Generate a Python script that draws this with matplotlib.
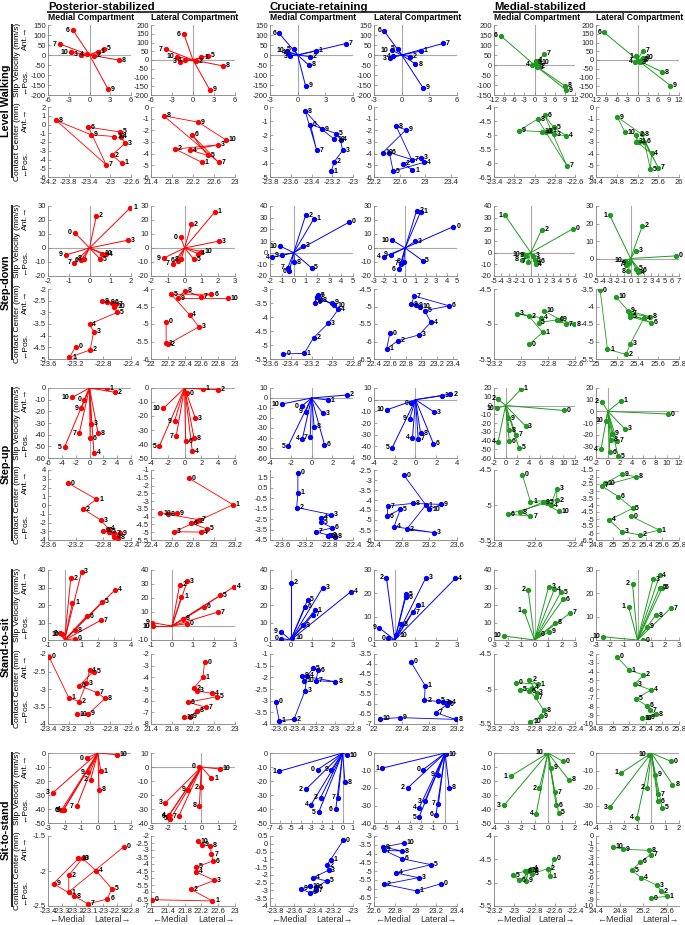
import numpy as np
import matplotlib
matplotlib.use("Agg")
import matplotlib.pyplot as plt
from matplotlib.lines import Line2D

plt.rcParams['font.family'] = ['Liberation Sans', 'DejaVu Sans']
plt.rcParams['axes.unicode_minus'] = False

tasks = ["Level Walking", "Step-down", "Step-up", "Stand-to-sit", "Sit-to-stand"]
designs = ["Posterior-stabilized", "Cruciate-retaining", "Medial-stabilized"]
compartments = ["Medial Compartment", "Lateral Compartment"]
design_colors = ["#ff0000", "#0000ff", "#1f9a1f"]

walk_labels = list(range(1, 11))
task_labels = list(range(0, 11))

# ---- level walking (points 1..10), columns: PS med, PS lat, CR med, CR lat, MS med, MS lat
walk_slip_x = [
    [1.2, 0.65, -1.3, -0.4, 2.1, -2.4, -4.3, 4.2, 2.7, -2.7],
    [1.2, 0.4, -1.9, -1.2, 2.2, -1.3, -3.9, 4.3, 2.4, -2.3],
    [1.95, 1.3, -0.8, -1.0, -0.4, -2.0, 5.2, 1.2, 0.85, -1.2],
    [2.1, 0.9, -1.3, -0.9, -0.4, -1.9, 4.5, 1.5, 2.3, -1.1],
    [0.5, 1.0, 0.8, -0.7, 0.3, -10.0, 2.9, 8.9, 9.4, 1.2],
    [-0.3, 1.0, 0.6, -0.6, 1.2, -9.7, 1.5, 7.2, 9.5, 1.5],
]
walk_slip_y = [
    [17, -3, 0, 3, 30, 125, 55, -25, -172, 13],
    [15, -6, -10, 0, 25, 147, 61, -34, -171, 19],
    [20, -8, -5, 10, 28, 108, 57, -50, -153, 20],
    [20, -8, -17, -5, 30, 120, 58, -45, -163, 25],
    [22, -5, -12, 0, 15, 146, 57, -103, -125, 12],
    [22, -5, -12, -10, 2, 158, 52, -69, -146, 12],
]
walk_cc_x = [
    [-22.78, -22.97, -22.71, -22.8, -22.81, -23.42, -23.08, -24.04, -23.38, -22.92],
    [22.37, 21.86, 22.67, 22.15, 22.48, 22.18, 22.69, 21.64, 22.3, 22.82],
    [-23.21, -23.18, -23.1, -23.12, -23.16, -23.41, -23.35, -23.46, -23.3, -23.18],
    [22.8, 22.66, 22.93, 22.98, 22.5, 22.44, 22.79, 22.55, 22.7, 22.34],
    [-22.85, -22.89, -22.81, -22.69, -22.81, -22.9, -22.68, -22.97, -23.15, -22.93],
    [25.22, 25.18, 25.18, 25.47, 25.45, 25.33, 25.6, 25.28, 24.81, 24.96],
]
walk_cc_y = [
    [-4.4, -3.5, -2.15, -1.4, -0.85, -0.3, -4.6, 0.46, -1.15, -1.38],
    [-4.75, -3.6, -3.25, -3.7, -4.15, -2.4, -4.75, -0.75, -1.3, -2.8],
    [-4.6, -3.9, -3.1, -2.35, -1.9, -1.25, -3.1, -0.3, -1.6, -2.3],
    [-5.4, -4.85, -4.35, -4.75, -5.5, -3.9, -4.5, -1.67, -1.96, -3.9],
    [-4.84, -4.88, -4.98, -5.02, -4.73, -4.3, -6.1, -4.43, -4.84, -4.88],
    [-2.97, -2.4, -2.97, -3.98, -5.33, -2.97, -5.19, -2.33, -0.86, -2.16],
]

# ---- step-down (points 0..10)
down_slip_x = [
    [-0.72, 1.97, 0.33, 1.85, 0.8, 0.52, -0.4, -0.74, -0.25, -1.15, 0.6],
    [-0.24, 1.8, 0.4, 2.04, 0.8, 0.54, -0.4, -0.7, -0.2, -1.24, 1.0],
    [4.7, 1.7, 1.0, 0.77, -1.8, 1.5, -0.37, -0.5, 0.06, -1.0, -1.14],
    [4.66, 1.5, 1.1, 1.0, -2.07, 1.68, -0.6, -0.36, -0.13, -1.4, -1.23],
    [5.7, -3.5, 1.47, 0.32, 0.65, 0.5, 0.97, -0.37, -1.2, -0.6, -1.06],
    [6.6, -3.0, 1.7, 0.74, 1.1, 0.8, 1.4, -0.6, -0.34, -0.25, -0.83],
]
down_slip_y = [
    [11, 28.8, 23, 5.6, -4.6, -7.9, -8.6, -10.7, -7.5, -5, -4.2],
    [7.7, 25.8, 17, 4.9, -4, -7.9, -9, -11.4, -8, -7.2, -2.5],
    [26.3, 29, 32, 6, -4, -13, -16, -13, -8.4, -2.2, 5.6],
    [15.3, 26, 26.5, 4.9, -6.3, -9, -15.3, -11.4, -9.8, -4.9, 5.6],
    [20.4, 32, 19.6, -2.8, -9.8, -6.4, -7.8, -7.8, -6.1, -2.8, -1.4],
    [1.5, 24.6, 18.7, 4.3, -7.8, -5.9, -6.9, -3.7, -7.4, -2.8, -1.3],
]
down_cc_x = [
    [-23.2, -23.29, -22.99, -22.94, -23.0, -22.6, -22.68, -22.62, -22.82, -22.74, -22.64],
    [22.18, 22.18, 22.2, 22.57, 22.46, 22.24, 22.72, 22.6, 22.4, 22.32, 22.92],
    [-23.47, -23.27, -23.18, -23.04, -22.94, -23.14, -23.17, -23.15, -23.12, -23.0, -22.98],
    [22.6, 22.56, 22.7, 22.97, 23.12, 23.04, 23.35, 22.91, 22.87, 22.93, 22.98],
    [-22.94, -22.84, -22.94, -23.03, -22.85, -22.87, -22.73, -22.67, -22.61, -22.71, -22.83],
    [25.04, 25.11, 25.29, 25.33, 25.46, 25.33, 25.53, 25.33, 25.52, 25.31, 25.19],
]
down_cc_y = [
    [-4.47, -4.93, -4.61, -3.83, -3.51, -3.0, -2.58, -2.66, -2.53, -2.56, -2.77],
    [-4.93, -5.55, -5.58, -5.08, -4.74, -4.15, -4.15, -4.22, -4.05, -4.27, -4.27],
    [-5.32, -5.3, -4.74, -4.23, -3.72, -3.22, -3.5, -3.3, -3.4, -3.5, -3.58],
    [-5.77, -6.21, -5.98, -5.81, -5.45, -5.12, -4.98, -4.7, -4.94, -4.96, -5.0],
    [-5.29, -5.12, -4.89, -4.85, -4.91, -4.98, -4.94, -5.0, -5.0, -4.94, -4.81],
    [-3.53, -5.22, -5.37, -5.07, -4.34, -4.29, -4.46, -4.21, -4.29, -4.12, -3.72],
]

# ---- step-up
up_slip_x = [
    [-0.74, 2.56, 3.7, 0.25, 0.64, -3.6, 0.1, -1.48, 1.23, -1.23, -2.46],
    [0.32, 2.2, 4.0, 1.28, 0.92, -3.0, 0.12, -1.0, 1.12, -1.2, -2.52],
    [-0.95, 1.57, 3.4, 1.08, -0.88, -2.26, 1.25, -0.13, 0.26, -0.56, -2.85],
    [-0.39, 2.55, 3.37, 1.83, -0.29, -2.25, 1.73, 0.26, 0.49, -0.56, -2.78],
    [10.1, 2.7, -1.3, 3.45, -1.3, 2.3, 0.64, 1.8, 0.64, 0.35, -1.4],
    [10.2, 2.2, -1.0, 2.85, -1.17, 1.73, 0.34, 1.5, 0.5, 0.67, -0.33],
]
up_slip_y = [
    [-10.2, 0, -3.7, -30.7, -55.4, -50.6, -42.9, -38.6, -38.6, -17.3, -8],
    [-3.6, -0.7, -1.2, -21.6, -45.3, -41.5, -38.2, -34.4, -35.8, -23.7, -14.5],
    [-8.3, -2, 3, -15.3, -40.9, -48.2, -46.5, -39, -29, -13.6, -6],
    [-3.1, 3.4, 4.8, -10.8, -32.7, -41.2, -37.8, -33.5, -28.7, -16.5, -8.8],
    [-5.7, 18.9, 7.6, -23.5, -41.7, -48.2, -40.9, -33.3, -28.4, -14.4, -3],
    [-2.3, 9.1, 8.2, -15, -32.7, -38.6, -35, -25, -24.4, -19.3, -8],
]
up_cc_x = [
    [-23.31, -22.9, -23.09, -22.83, -22.73, -22.72, -22.65, -22.65, -22.59, -22.56, -22.81],
    [22.76, 23.18, 22.84, 22.62, 22.88, 22.93, 22.78, 22.86, 22.56, 22.65, 22.49],
    [-23.33, -23.33, -23.35, -22.77, -22.94, -22.94, -22.75, -23.03, -22.71, -22.78, -22.82],
    [22.83, 23.15, 22.87, 23.27, 22.69, 22.78, 22.59, 22.6, 22.96, 23.37, 23.2],
    [-22.66, -22.62, -22.49, -22.49, -22.52, -22.54, -22.73, -22.62, -22.67, -22.56, -22.48],
    [25.22, 25.56, 25.33, 25.11, 24.96, 25.24, 25.07, 24.87, 25.28, 25.11, 24.91],
]
up_cc_y = [
    [2.51, 0.65, -0.46, -1.76, -2.69, -3.06, -3.62, -3.25, -3.73, -3.25, -2.95],
    [-1.52, -3.23, -4.3, -4.97, -4.99, -4.78, -4.41, -4.2, -3.85, -3.79, -3.79],
    [1.93, 0.01, -1.39, -2.07, -2.38, -2.79, -3.34, -3.72, -4.18, -4.05, -4.15],
    [-2.75, -4.25, -5.47, -5.63, -5.33, -4.47, -4.8, -4.3, -4.17, -4.22, -4.47],
    [-4.57, -4.95, -4.93, -4.77, -5.0, -4.97, -5.13, -5.16, -5.1, -4.96, -5.09],
    [-4.79, -5.79, -6.14, -5.9, -5.07, -4.24, -3.4, -2.64, -1.98, -1.79, -2.45],
]

# ---- stand-to-sit
sit_slip_x = [
    [0.61, 0.47, 0.37, 1.02, 3.03, 2.27, 1.33, 2.21, 0.61, -0.25, -0.18],
    [0.7, 0.45, 0.36, 0.73, 2.96, 2.3, 1.5, 2.19, 0.53, -0.94, -0.92],
    [-0.46, 1.17, 0.0, 1.54, 2.9, 0.81, 0.7, 1.06, 0.6, -0.49, 0.08],
    [-0.32, 1.1, -0.4, 1.5, 2.92, 0.53, 0.53, 0.86, 0.32, -0.76, 0.08],
    [0.25, -0.78, -0.47, 1.05, 1.47, 1.96, 2.1, 2.65, 1.54, 1.1, -2.25],
    [0.41, -0.65, -0.36, 1.13, 1.6, 1.6, 1.8, 2.4, 1.32, 0.72, -2.52],
]
sit_slip_y = [
    [0.8, 21.3, 35.2, 38.9, 28.6, 21.9, 13.7, 11.4, 5.5, 3.8, 3.2],
    [1.7, 21, 29.3, 32.1, 28.1, 21.9, 13.6, 10, 5.2, 2.4, 0],
    [0.8, 17.1, 32.8, 29.9, 27.6, 22.9, 19, 14.3, 8.4, 4.8, 1.3],
    [0.7, 14.9, 26.7, 26.7, 26.4, 19.6, 18.4, 12, 6.7, 5.3, 2],
    [3.2, 16.6, 28.6, 30.5, 29, 27.4, 23.2, 15.5, 9.9, 4.8, 2.3],
    [0, 14.3, 24.1, 26, 27.7, 22.4, 22.4, 13.6, 10.7, 5.6, 1.4],
]
sit_cc_x = [
    [-23.39, -23.2, -23.1, -23.03, -23.0, -22.96, -23.1, -22.93, -22.85, -23.01, -23.12],
    [22.42, 22.39, 22.21, 22.27, 22.57, 22.65, 22.11, 22.45, 22.28, 22.14, 22.03],
    [-23.64, -23.6, -23.44, -23.32, -23.3, -23.23, -23.18, -23.2, -22.99, -23.35, -23.33],
    [22.53, 22.74, 22.73, 23.0, 23.08, 22.93, 23.05, 22.89, 23.18, 22.37, 22.08],
    [-22.98, -22.77, -22.85, -22.78, -22.82, -22.94, -22.85, -22.79, -22.71, -22.74, -22.84],
    [25.05, 25.2, 25.37, 25.27, 25.46, 25.28, 25.41, 25.45, 25.52, 25.43, 25.35],
]
sit_cc_y = [
    [-2.08, -3.25, -3.36, -2.84, -2.46, -2.5, -2.9, -3.1, -3.27, -3.71, -3.72],
    [-2.71, -4.0, -4.94, -5.17, -5.37, -5.66, -6.14, -6.57, -6.86, -7.37, -7.43],
    [-3.04, -3.86, -3.8, -2.57, -1.94, -1.61, -1.69, -2.14, -2.19, -1.93, -2.14],
    [-3.88, -5.08, -5.8, -5.9, -5.9, -5.85, -6.05, -6.43, -6.77, -6.68, -6.75],
    [-4.91, -4.93, -4.87, -5.05, -4.98, -5.01, -5.03, -5.12, -5.3, -5.39, -5.47],
    [-2.3, -3.83, -4.4, -5.43, -6.11, -7.14, -7.9, -8.4, -8.9, -9.24, -9.35],
]

# ---- sit-to-stand
stand_slip_x = [
    [-0.66, 0.18, -0.43, -2.7, -2.05, -2.1, -2.2, -1.27, 0.08, -0.6, 1.15],
    [-0.16, 0.59, -0.02, -2.15, -1.94, -1.84, -1.98, -1.34, -0.12, -0.77, 1.09],
    [-2.4, -6.1, -3.54, -2.13, -3.05, -2.3, -0.66, -0.43, 0.22, -1.08, 0.4],
    [-1.86, -5.34, -3.14, -1.71, -2.2, -2.2, -0.77, -0.57, 0.34, -0.63, 0.08],
    [1.1, -2.77, -0.64, -3.26, -0.88, 0.78, 0.61, 0.49, 1.54, 0.22, -0.12],
    [1.4, -2.18, -0.29, -2.98, -1.04, 0.77, 0.48, 0.48, 1.53, 0.24, -0.17],
]
stand_slip_y = [
    [-3.6, -13, -19, -28.4, -40.5, -41, -41, -38.2, -26.3, -13.7, -1.2],
    [0.2, -8, -14.5, -25.6, -34.6, -37, -35.5, -35, -27.5, -16.1, -1.4],
    [-11.8, -13, -26, -32, -37, -42.2, -40.3, -32, -20.8, -11.8, -1.5],
    [-9.5, -8.7, -19.9, -27.5, -31.4, -36.6, -35.2, -29, -19.9, -12.3, -0.6],
    [-5.9, -16.6, -25.1, -37.4, -43.4, -42.7, -37.4, -28, -19.2, -10.7, 0],
    [-4.7, -11.4, -19.9, -30.9, -37.1, -31.4, -27.7, -23.7, -18, -12.5, -0.9],
]
stand_cc_x = [
    [-22.85, -23.25, -23.25, -23.15, -23.05, -22.94, -22.97, -23.11, -23.21, -23.36, -23.18],
    [21.02, 22.46, 21.95, 22.51, 22.07, 22.07, 22.48, 22.44, 22.41, 22.21, 22.11],
    [-23.1, -23.23, -23.27, -23.25, -23.41, -23.27, -23.38, -23.38, -23.44, -23.53, -23.44],
    [23.25, 23.01, 22.7, 23.03, 22.81, 23.15, 22.87, 22.7, 22.87, 22.69, 22.89],
    [-22.61, -22.65, -22.67, -22.82, -22.83, -23.01, -22.95, -22.84, -22.89, -22.88, -22.86],
    [25.33, 25.6, 25.5, 25.43, 25.16, 25.0, 25.15, 25.32, 25.3, 24.86, 24.68],
]
stand_cc_y = [
    [-1.65, -2.3, -2.06, -1.82, -2.0, -2.25, -2.4, -2.47, -2.36, -2.18, -1.82],
    [-6.55, -6.64, -5.81, -5.17, -4.57, -4.21, -3.79, -3.31, -2.71, -2.62, -2.38],
    [0.22, -1.02, -1.38, -1.7, -2.18, -2.39, -2.78, -2.99, -3.16, -2.9, -2.73],
    [-5.72, -6.14, -5.76, -5.38, -5.11, -4.64, -4.3, -3.82, -3.86, -3.63, -3.4],
    [-4.49, -4.86, -4.7, -4.81, -4.7, -4.84, -4.95, -4.76, -4.76, -4.96, -4.74],
    [-8.86, -8.62, -7.86, -7.05, -5.95, -4.9, -3.71, -2.67, -2.05, -1.9, -1.57],
]

row_data = [
    (walk_labels, walk_slip_x, walk_slip_y, walk_cc_x, walk_cc_y),
    (task_labels, down_slip_x, down_slip_y, down_cc_x, down_cc_y),
    (task_labels, up_slip_x, up_slip_y, up_cc_x, up_cc_y),
    (task_labels, sit_slip_x, sit_slip_y, sit_cc_x, sit_cc_y),
    (task_labels, stand_slip_x, stand_slip_y, stand_cc_x, stand_cc_y),
]

# axis ranges: (lo, hi, step, first tick)
slip_x_rng = [
    [(-6, 6, 3), (-6, 6, 3), (-3, 6, 3), (-3, 6, 3), (-12, 12, 3), (-12, 12, 3)],
    [(-2, 2, 1), (-2, 3, 1), (-2, 5, 1), (-3, 5, 1), (-5, 6, 1), (-5, 7, 1)],
    [(-6, 6, 2), (-4, 6, 2), (-4, 4, 2), (-4, 4, 2), (-2, 12, 2), (-2, 12, 2)],
    [(-1, 4, 1), (-1, 3, 1), (-1, 3, 1), (-1, 3, 1), (-3, 3, 1), (-3, 3, 1)],
    [(-3, 2, 1), (-3, 2, 1), (-7, 1, 1), (-6, 1, 1), (-4, 2, 1), (-4, 2, 1)],
]
slip_y_rng = [
    [(-200, 150, 50), (-200, 200, 50), (-200, 150, 50), (-200, 150, 50), (-150, 200, 50), (-200, 200, 50)],
    [(-20, 30, 10), (-20, 30, 10), (-20, 40, 10), (-20, 30, 10), (-20, 40, 10), (-10, 30, 10)],
    [(-60, 0, 10), (-50, 0, 10), (-60, 10, 10), (-50, 10, 10), (-60, 20, 10), (-40, 20, 10)],
    [(0, 40, 10), (-10, 40, 10), (0, 40, 10), (0, 30, 10), (0, 40, 10), (0, 30, 10)],
    [(-50, 0, 10), (-40, 10, 10), (-50, 0, 10), (-40, 0, 10), (-50, 0, 10), (-40, 0, 10)],
]
cc_x_rng = [
    [(-24.2, -22.6, 0.4), (21.4, 23, 0.4), (-23.8, -23, 0.2), (22.2, 23.5, 0.4, 22.2), (-23.4, -22.6, 0.2), (24.4, 26, 0.4)],
    [(-23.6, -22.4, 0.4), (22, 23, 0.2), (-23.6, -22.8, 0.2), (22.4, 23.45, 0.2), (-23.2, -22.6, 0.2), (25, 25.8, 0.2)],
    [(-23.6, -22.4, 0.4), (22.4, 23.2, 0.2), (-23.8, -22.4, 0.4, -23.6), (22.4, 23.6, 0.4), (-22.8, -22.4, 0.2), (24.8, 25.8, 0.2)],
    [(-23.4, -22.6, 0.2), (21.4, 23, 0.4), (-23.7, -22.8, 0.2, -23.6), (22, 23.2, 0.4), (-23.2, -22.4, 0.2), (24.8, 25.8, 0.2)],
    [(-23.4, -22.8, 0.1), (21, 23, 0.4), (-23.85, -23, 0.2, -23.8), (22.6, 23.4, 0.2), (-23.2, -22.4, 0.2), (24.4, 25.8, 0.4)],
]
cc_y_rng = [
    [(-6, 2, 1), (-6, 0, 1), (-5, 0, 1), (-6, 0, 1), (-6.5, -4, 0.5), (-6, 0, 1)],
    [(-5, -2, 0.5), (-6, -4, 0.5), (-5.5, -3, 0.5), (-6.5, -4.5, 0.5), (-5.5, -4.5, 0.5), (-5.5, -3.5, 0.5)],
    [(-4, 4, 1), (-5.5, -1, 0.5), (-4.5, 2.2, 1), (-6, -2.5, 0.5), (-5.5, -4.5, 0.5), (-6.5, -1.5, 0.5)],
    [(-4, -2, 0.5), (-8, -2, 1), (-4, -1, 0.5), (-7, -3.5, 0.5), (-5.5, -4.5, 0.5), (-10, -2, 1)],
    [(-2.5, -1.5, 0.5), (-7, -2, 0.5), (-4, 0.5, 0.5), (-7, -3, 0.5), (-5.5, -4, 0.5), (-10, 0, 1)],
]

W, H = 685, 925
col_left = [48, 151, 270, 374, 494, 596]
col_w = [83, 84, 83, 83, 81, 83]
slip_top = [25, 206, 388, 570, 753]
cc_top = [107, 289, 470, 654, 836]
ax_h = 70


def fx(px):
    return px / W


def fy(py):
    return 1 - py / H


def tick_list(r):
    lo, hi, step = r[0], r[1], r[2]
    start = r[3] if len(r) > 3 else lo
    return np.round(np.arange(start, hi + step * 0.01, step), 4)


def style_axes(ax, xr, yr):
    ax.set_xlim(xr[0], xr[1])
    ax.set_ylim(yr[0], yr[1])
    ax.set_xticks(tick_list(xr))
    ax.set_yticks(tick_list(yr))
    ax.set_xticklabels(['%g' % t for t in tick_list(xr)])
    ax.set_yticklabels(['%g' % t for t in tick_list(yr)])
    for s in ['top', 'right']:
        ax.spines[s].set_visible(False)
    for s in ['left', 'bottom']:
        ax.spines[s].set_color('#808080')
        ax.spines[s].set_linewidth(0.6)
    ax.tick_params(direction='in', length=2, width=0.5, labelsize=5.5,
                   colors='#808080', labelcolor='#262626', pad=1.5)
    ax.patch.set_alpha(0)


fig = plt.figure(figsize=(W / 100, H / 100), dpi=100)

for r in range(5):
    labels, sx, sy, cx, cy = row_data[r]
    for c in range(6):
        color = design_colors[c // 2]
        # slip velocity panel
        ax = fig.add_axes([fx(col_left[c]), fy(slip_top[r] + ax_h), fx(col_w[c]), ax_h / H])
        ax.axhline(0, color='#a8a8a8', lw=0.8, zorder=0)
        ax.axvline(0, color='#a8a8a8', lw=0.8, zorder=0)
        for x, y in zip(sx[c], sy[c]):
            ax.plot([0, x], [0, y], color=color, lw=0.7, zorder=2)
        ax.plot(sx[c], sy[c], 'o', ms=2.8, color=color, zorder=3)
        for x, y, lab in zip(sx[c], sy[c], labels):
            right = x >= 0
            ax.annotate(str(lab), (x, y), xytext=(2 if right else -2, 0),
                        textcoords='offset points', ha='left' if right else 'right',
                        va='center', fontsize=5, fontweight='bold', zorder=4)
        style_axes(ax, slip_x_rng[r][c], slip_y_rng[r][c])

        # contact center panel
        ax = fig.add_axes([fx(col_left[c]), fy(cc_top[r] + ax_h), fx(col_w[c]), ax_h / H])
        ax.plot(cx[c], cy[c], '-', color=color, lw=0.6, zorder=2)
        ax.plot(cx[c], cy[c], 'o', ms=2.8, color=color, zorder=3)
        for x, y, lab in zip(cx[c], cy[c], labels):
            ax.annotate(str(lab), (x, y), xytext=(2, 0), textcoords='offset points',
                        ha='left', va='center', fontsize=5, fontweight='bold', zorder=4)
        style_axes(ax, cc_x_rng[r][c], cc_y_rng[r][c])

    # row label, bar and y labels
    mid = (slip_top[r] + cc_top[r] + ax_h) / 2
    fig.text(fx(6), fy(mid), tasks[r], rotation=90, ha='center', va='center',
             fontsize=7.8, fontweight='bold')
    fig.add_artist(Line2D([fx(12.5), fx(12.5)], [fy(slip_top[r]), fy(cc_top[r] + ax_h)],
                          color='#222222', lw=1.4))
    for top, name in [(slip_top[r], "Slip Velocity (mm/s)"), (cc_top[r], "Contact Center (mm)")]:
        fig.text(fx(18), fy(top + ax_h / 2), name, rotation=90, ha='center', va='center', fontsize=6.0)
        fig.text(fx(25), fy(top + ax_h - 1), "\u2190Pos.", rotation=90, ha='center', va='bottom', fontsize=6.0)
        fig.text(fx(25), fy(top + 1), "Ant.\u2192", rotation=90, ha='center', va='top', fontsize=6.0)

# design titles and compartment headers
for d in range(3):
    left = col_left[2 * d]
    right = col_left[2 * d + 1] + col_w[2 * d + 1]
    fig.text(fx(left), fy(10), designs[d], ha='left', va='baseline', fontsize=8.2, fontweight='bold')
    fig.add_artist(Line2D([fx(left), fx(right)], [fy(12), fy(12)], color='#333333', lw=1.4))
for c in range(6):
    fig.text(fx(col_left[c]), fy(18), compartments[c % 2], ha='left', va='center',
             fontsize=6.2, fontweight='bold')
    fig.text(fx(col_left[c] + 1), fy(920), "\u2190Medial", ha='left', va='center', fontsize=6.5, color='#333333')
    fig.text(fx(col_left[c] + col_w[c]), fy(920), "Lateral\u2192", ha='right', va='center', fontsize=6.5, color='#333333')

fig.savefig("out.png", dpi=100)
